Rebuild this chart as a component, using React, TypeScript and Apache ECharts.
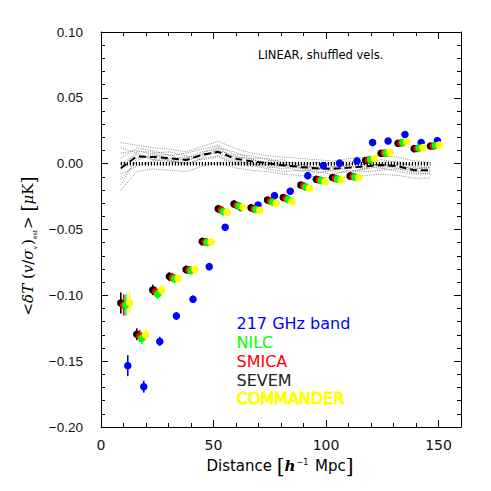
import React, { useEffect, useRef } from "react";
import * as echarts from "echarts";

// Bin centres (h^-1 Mpc)
const DIST = [10.8, 17.9, 25.0, 32.4, 39.8, 47.0, 54.1, 61.1, 68.7, 76.0, 83.0, 90.8, 97.7, 104.9, 112.7, 119.6, 126.5, 134.0, 141.2, 148.4];

// Measured <dT (v/sigma_v)_est> [muK]
const SEVEM = [-0.1058, -0.1296, -0.0959, -0.0857, -0.0804, -0.0591, -0.0343, -0.0306, -0.0335, -0.0276, -0.0257, -0.0162, -0.0118, -0.0105, -0.0093, 0.0024, 0.0079, 0.0155, 0.0114, 0.0134];
const SMICA = [-0.1073, -0.1309, -0.0974, -0.0864, -0.0808, -0.0595, -0.0351, -0.0317, -0.0344, -0.0283, -0.0264, -0.0169, -0.0124, -0.0112, -0.0097, 0.0028, 0.0081, 0.0157, 0.0115, 0.0134];
const NILC = [-0.1073, -0.1326, -0.0989, -0.0872, -0.0811, -0.0598, -0.0363, -0.0321, -0.0348, -0.0291, -0.0272, -0.0177, -0.0128, -0.0116, -0.0101, 0.0032, 0.0081, 0.0161, 0.0119, 0.0138];
const COMMANDER = [-0.1056, -0.1301, -0.0959, -0.0872, -0.0804, -0.0595, -0.0369, -0.0331, -0.0355, -0.0301, -0.0287, -0.0187, -0.0137, -0.0124, -0.0105, 0.0039, 0.0087, 0.0167, 0.0122, 0.0142];
const BAND217 = [-0.1534, -0.1694, -0.1350, -0.1157, -0.1030, -0.0782, -0.0483, -0.0332, -0.0314, -0.0243, -0.0210, -0.0091, -0.0014, 0.0004, 0.0021, 0.0160, 0.0172, 0.0222, 0.0160, 0.0175];
const ERR = [0.008, 0.0045, 0.004, 0.0035, 0.003, 0.003, 0.003, 0.0028, 0.0026, 0.0025, 0.0024, 0.0023, 0.0022, 0.0022, 0.0021, 0.0021, 0.002, 0.002, 0.002, 0.002];
const ERR_217 = [0.008, 0.0045, 0.0035, 0.003, 0.0028, 0.0026, 0.0025, 0.0024, 0.0023, 0.0022, 0.0022, 0.0021, 0.0021, 0.002, 0.002, 0.002, 0.002, 0.002, 0.002, 0.002];

// Shuffled-velocity simulations: mean and individual realisations
const SIM_MEAN = [-0.0035, 0.0055, 0.005, 0.0042, 0.0028, 0.0068, 0.009, 0.004, 0.0018, 0.0003, -0.0012, -0.0025, -0.0035, -0.004, -0.003, -0.002, -0.001, -0.002, -0.005, -0.005];
const SIM_01 = [0.016, 0.014, 0.012, 0.011, 0.009, 0.013, 0.017, 0.012, 0.008, 0.006, 0.005, 0.004, 0.003, 0.002, 0.004, 0.005, 0.006, 0.005, 0.002, 0.001];
const SIM_02 = [-0.020, -0.006, -0.004, -0.005, -0.006, -0.002, 0.001, -0.003, -0.005, -0.006, -0.008, -0.009, -0.010, -0.011, -0.010, -0.009, -0.008, -0.009, -0.011, -0.011];
const SIM_03 = [0.008, 0.010, 0.007, 0.002, 0.000, 0.004, 0.012, 0.009, 0.004, -0.002, -0.004, -0.001, 0.001, -0.002, -0.006, -0.004, 0.001, 0.002, -0.002, -0.003];
const SIM_04 = [-0.012, 0.002, 0.008, 0.009, 0.006, 0.003, 0.005, 0.000, -0.002, 0.002, 0.003, -0.003, -0.007, -0.005, 0.000, 0.002, -0.003, -0.006, -0.008, -0.007];
const SIM_05 = [0.004, 0.012, 0.010, 0.006, 0.008, 0.011, 0.014, 0.007, 0.006, 0.003, 0.000, -0.004, -0.002, 0.001, 0.002, -0.001, -0.004, -0.001, -0.004, -0.002];
const SIM_06 = [-0.008, -0.002, 0.002, 0.003, -0.001, 0.004, 0.006, 0.001, -0.001, -0.004, -0.006, -0.005, -0.006, -0.008, -0.005, -0.006, -0.005, -0.004, -0.007, -0.008];
const SIM_07 = [0.012, 0.008, 0.003, 0.001, 0.004, 0.009, 0.011, 0.005, 0.004, 0.004, 0.001, 0.000, -0.004, -0.003, -0.001, 0.001, 0.003, 0.001, -0.003, -0.004];
const SIM_08 = [-0.016, 0.004, 0.006, 0.007, 0.002, 0.007, 0.008, 0.002, 0.000, -0.001, -0.002, -0.001, -0.003, -0.006, -0.007, -0.003, 0.000, -0.003, -0.006, -0.006];
const SIM_09 = [0.000, 0.007, 0.003, 0.004, 0.005, 0.006, 0.010, 0.006, 0.003, 0.001, -0.001, -0.003, -0.005, -0.002, -0.002, -0.004, -0.002, 0.000, -0.005, -0.005];
const SIM_10 = [-0.004, 0.009, 0.009, 0.002, 0.001, 0.008, 0.013, 0.003, 0.000, -0.003, -0.002, -0.006, -0.004, -0.004, -0.003, 0.000, -0.001, -0.004, -0.004, -0.003];
const SIMS = [SIM_01, SIM_02, SIM_03, SIM_04, SIM_05, SIM_06, SIM_07, SIM_08, SIM_09, SIM_10];

const X_MAJOR_TICKS = [0, 50, 100, 150];

export default function App() {
  const ref = useRef<HTMLDivElement>(null);

  useEffect(() => {
    const chart = echarts.init(ref.current!, null, { renderer: "svg" });

    const errSeries = (ys: number[], es: number[], color: string, off: number) => ({
      type: "custom",
      silent: true,
      data: DIST.map((d, i) => [d + off, ys[i], es[i]]),
      encode: { x: 0, y: 1 },
      renderItem: (_p: any, api: any) => {
        const x = api.value(0), y = api.value(1), e = api.value(2);
        const a = api.coord([x, y - e]);
        const b = api.coord([x, y + e]);
        return {
          type: "line",
          shape: { x1: a[0], y1: a[1], x2: b[0], y2: b[1] },
          style: { stroke: color, lineWidth: 1.6 },
        };
      },
      z: 3,
    });
    const ptSeries = (name: string, ys: number[], color: string, off: number) => ({
      type: "scatter",
      name,
      silent: true,
      data: DIST.map((d, i) => [d + off, ys[i]]),
      symbol: "circle",
      symbolSize: 7.5,
      itemStyle: { color, opacity: 1 },
      z: 4,
    });

    const SIM_OFF = -2.0;
    const groups: [string, number[], number[], string, number][] = [
      ["217 GHz band", BAND217, ERR_217, "#0000ff", 1.1],
      ["SEVEM", SEVEM, ERR, "#000000", -2.0],
      ["SMICA", SMICA, ERR, "#ff0000", -0.7],
      ["NILC", NILC, ERR, "#00ff00", 0.2],
      ["COMMANDER", COMMANDER, ERR, "#ffff00", 1.9],
    ];

    const series: any[] = [];
    SIMS.forEach((s) =>
      series.push({
        type: "line",
        silent: true,
        symbol: "none",
        data: DIST.map((d, i) => [d + SIM_OFF, s[i]]),
        lineStyle: { color: "#6e6e6e", width: 0.8, type: [1, 1.3] },
        z: 1,
      })
    );
    series.push({
      type: "line",
      silent: true,
      symbol: "none",
      data: [
        [DIST[0] + SIM_OFF, 0],
        [DIST[DIST.length - 1] + SIM_OFF, 0],
      ],
      lineStyle: { color: "#000", width: 3.5, type: [1.2, 1.8] },
      z: 2,
    });
    series.push({
      type: "line",
      silent: true,
      symbol: "none",
      data: DIST.map((d, i) => [d + SIM_OFF, SIM_MEAN[i]]),
      lineStyle: { color: "#000", width: 2, type: [7, 4] },
      z: 2,
    });
    groups.forEach(([name, ys, es, color, off]) => {
      series.push(errSeries(ys, es, color, off));
      series.push(ptSeries(name, ys, color, off));
    });

    const xBase = (position: string, interval: number, len: number, labels: boolean, line: boolean) => ({
      type: "value",
      position,
      min: 0,
      max: 160,
      interval,
      axisLine: { show: line, onZero: false, lineStyle: { color: "#000", width: 1 } },
      axisTick: { show: true, inside: true, length: len, lineStyle: { color: "#000", width: 1 } },
      axisLabel: labels
        ? {
            show: true,
            margin: 11,
            color: "#111",
            fontFamily: "DejaVu Sans",
            fontSize: 14,
            formatter: (v: number) => (X_MAJOR_TICKS.indexOf(v) >= 0 ? String(v) : ""),
          }
        : { show: false },
      splitLine: { show: false },
    });
    const yBase = (position: string, labels: boolean) => ({
      type: "value",
      position,
      min: -0.2,
      max: 0.1,
      interval: 0.05,
      axisLine: { show: true, onZero: false, lineStyle: { color: "#000", width: 1 } },
      axisTick: { show: true, inside: true, length: 7, lineStyle: { color: "#000", width: 1 } },
      minorTick: { show: true, splitNumber: 5, length: 4, lineStyle: { color: "#000", width: 1 } },
      axisLabel: labels
        ? {
            show: true,
            margin: 18,
            color: "#111",
            fontFamily: "Liberation Sans",
            fontSize: 13.5,
            formatter: (v: number) => (v < -1e-9 ? "\u2212" : "") + Math.abs(v).toFixed(2),
          }
        : { show: false },
      splitLine: { show: false },
      minorSplitLine: { show: false },
    });

    const legendFont = { fontFamily: "DejaVu Sans", fontSize: 16 };
    const legendItems: [string, string, number, boolean][] = [
      ["217 GHz band", "#0000ff", 323, false],
      ["NILC", "#00ff00", 342, false],
      ["SMICA", "#ff0000", 361.5, false],
      ["SEVEM", "#222222", 380, false],
      ["COMMANDER", "#ffff00", 398.5, true],
    ];

    const graphic: any[] = [
      {
        type: "text",
        x: 258,
        y: 55,
        style: {
          text: "LINEAR, shuffled vels.",
          fill: "#000",
          fontFamily: "DejaVu Sans",
          fontSize: 11.5,
          align: "left",
          verticalAlign: "middle",
        },
      },
      ...legendItems.map(([t, c, y, bold]) => ({
        type: "text",
        x: 236.5,
        y,
        style: {
          text: t,
          fill: c,
          ...legendFont,
          align: "left",
          verticalAlign: "middle",
          stroke: bold ? c : undefined,
          lineWidth: bold ? 1.1 : 0,
        },
      })),
      {
        type: "text",
        x: 280,
        y: 466,
        style: {
          text: "{n|Distance }{b|[}{h|h}{sup|\u22121}{n| Mpc}{b|]}",
          fill: "#000",
          align: "center",
          verticalAlign: "middle",
          rich: {
            n: { fontFamily: "DejaVu Sans", fontSize: 15, fill: "#000" },
            b: { fontFamily: "DejaVu Serif", fontSize: 20, fill: "#000" },
            h: { fontFamily: "DejaVu Serif", fontStyle: "italic", fontWeight: "bold", fontSize: 15, fill: "#000" },
            sup: { fontFamily: "DejaVu Sans", fontSize: 8, verticalAlign: "top", fill: "#000", padding: [2, 2, 0, 1] },
          },
        },
      },
      {
        type: "text",
        x: 28,
        y: 246,
        rotation: Math.PI / 2,
        style: {
          text: "{n|<}{i|\u03b4T}{n| (}{i|v}{n|/}{i|\u03c3}{s|v}{n|)}{s|est}{n|>}{n| }{b|[}{i|\u03bc}{n|K}{b|]}",
          fill: "#000",
          align: "center",
          verticalAlign: "middle",
          rich: {
            n: { fontFamily: "DejaVu Serif", fontSize: 15, fill: "#000" },
            i: { fontFamily: "DejaVu Serif", fontStyle: "italic", fontSize: 15, fill: "#000" },
            b: { fontFamily: "DejaVu Serif", fontSize: 18, fill: "#000" },
            s: { fontFamily: "DejaVu Sans", fontSize: 6, verticalAlign: "bottom", fill: "#000", padding: [0, 1, 0, 0] },
          },
        },
      },
    ];

    chart.setOption({
      animation: false,
      backgroundColor: "#ffffff",
      grid: { left: 101, top: 32, width: 360, height: 395, containLabel: false },
      xAxis: [
        { ...xBase("bottom", 10, 4, true, true) },
        { ...xBase("bottom", 50, 7, false, false) },
        { ...xBase("top", 10, 4, false, true) },
        { ...xBase("top", 50, 7, false, false) },
      ],
      yAxis: [yBase("left", true), yBase("right", false)],
      series,
      graphic,
    });

    return () => chart.dispose();
  }, []);

  return <div ref={ref} style={{ position: "absolute", left: 0, top: 0, width: 491, height: 491 }} />;
}
